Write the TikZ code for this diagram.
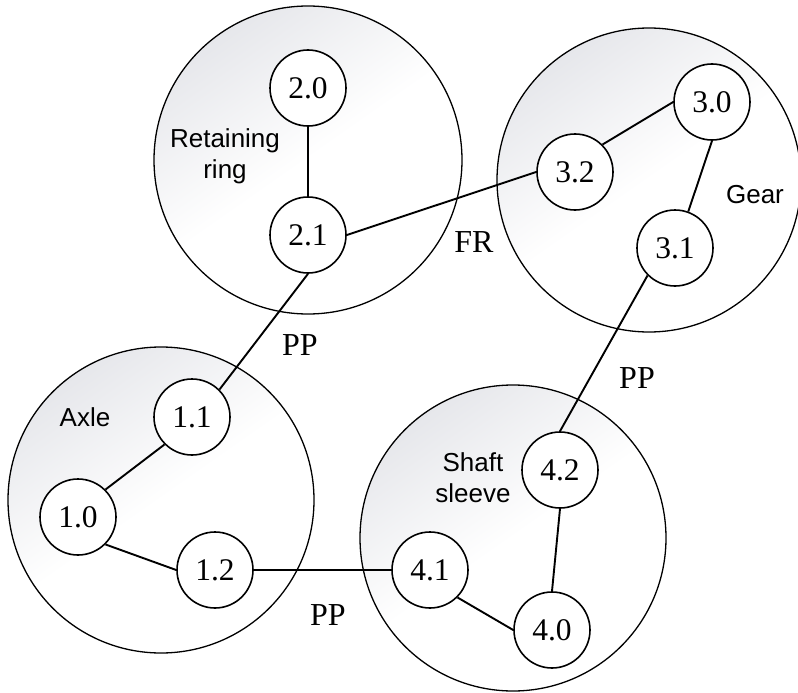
\documentclass[tikz,border=0pt]{standalone}
\usepackage{fontspec}
\setmainfont{Liberation Serif}
\newfontfamily\labelsans{Liberation Sans}
\definecolor{groupshade}{RGB}{230,231,235}
\begin{document}
\begin{tikzpicture}[x=1pt,y=-1pt,
  group/.style={circle, draw, line width=1.3pt, inner sep=0pt,
    top color=groupshade, bottom color=white, middle color=white, shading angle=35},
  part/.style={circle, draw, line width=1.6pt, fill=white, minimum size=76pt,
    inner sep=0pt, font=\fontsize{31.5}{32}\selectfont},
  link/.style={line width=1.9pt},
  grouplabel/.style={font=\labelsans\fontsize{26}{31}\selectfont, align=center},
  relation/.style={font=\fontsize{32}{34}\selectfont}]
\useasboundingbox (0,0) rectangle (798,693);

% component groups
\node[group, minimum size=308pt] (ring) at (308,160) {};
\node[group, minimum size=304pt] (gear) at (649,180) {};
\node[group, minimum size=306pt] (axle) at (161,500) {};
\node[group, minimum size=306pt] (sleeve) at (513,538) {};

% group names
\node[grouplabel] (ringname) at (225,156) {Retaining\\ring};
\node[grouplabel] (gearname) at (755,195) {Gear};
\node[grouplabel] (axlename) at (85,417) {Axle};
\node[grouplabel] (sleevename) at (473,478) {Shaft\\sleeve};

% parts
\node[part] (n20) at (308,88) {2.0};
\node[part] (n21) at (308,235) {2.1};
\node[part] (n30) at (712,102) {3.0};
\node[part] (n32) at (575,172) {3.2};
\node[part] (n31) at (675,248) {3.1};
\node[part] (n11) at (192,417) {1.1};
\node[part] (n10) at (78,517) {1.0};
\node[part] (n12) at (215,570) {1.2};
\node[part] (n42) at (560,470) {4.2};
\node[part] (n41) at (430,570) {4.1};
\node[part] (n40) at (552,630) {4.0};

% links inside groups
\draw[link] (n20.south) -- (n21.north);
\draw[link] (n32.north east) -- (n30.west);
\draw[link] (n30.south) -- (n31.70);
\draw[link] (n10.north east) -- (n11.south west);
\draw[link] (n10.south east) -- (n12.west);
\draw[link] (n42.south) -- (n40.north);
\draw[link] (n41.south east) -- (n40.west);

% links between groups
\draw[link] (n21.east) -- (n32.west);
\draw[link] (n21.south) -- (n11.north east);
\draw[link] (n31.south west) -- (n42.north);
\draw[link] (n12.east) -- (n41.west);

% relation types
\node[relation] (fr) at (474,242) {FR};
\node[relation] (pp1) at (300,345) {PP};
\node[relation] (pp2) at (637,378) {PP};
\node[relation] (pp3) at (328,615) {PP};
\end{tikzpicture}
\end{document}
